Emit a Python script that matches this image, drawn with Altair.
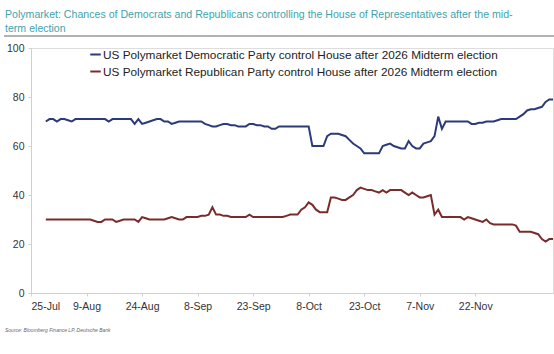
import altair as alt
import pandas as pd

# Daily observations, 29-Jul-2025 .. 12-Dec-2025
start_date = "2025-07-29"
dem_values = [
    70, 71, 71, 70, 71, 71, 70.5, 70, 71, 71, 71, 71, 71, 71, 71, 71, 71,  # 29-Jul..14-Aug
    70, 71, 71, 71, 71, 71, 71, 69, 71, 69, 69.5, 70, 70.5, 71, 71, 70, 70,  # ..31-Aug
    69, 69.5, 70, 70, 70, 70, 70, 70, 70, 69, 68.5, 68, 68, 68.5, 69, 69,  # ..16-Sep
    68.5, 68.5, 68, 68, 68, 69, 69, 68.5, 68.5, 68, 68, 67, 67, 68, 68, 68,  # ..2-Oct
    68, 68, 68, 68, 68, 68, 60, 60, 60, 60, 64, 65, 65, 65, 64.5, 64,  # ..18-Oct
    62.5, 61, 60, 59, 57, 57, 57, 57, 57, 60, 60.5, 61, 60, 59.5, 59, 59,  # ..3-Nov
    62, 60, 59, 59, 61, 61.5, 62, 64, 72, 67, 70, 70, 70, 70, 70, 70,  # ..19-Nov
    70, 69, 69, 69.5, 69.5, 70, 70, 70, 70.5, 71, 71, 71, 71, 71, 72, 73,  # ..5-Dec
    74.5, 75, 75, 75.5, 76, 78, 79, 79,  # ..12-Dec
]
rep_values = [
    30, 30, 30, 30, 30, 30, 30, 30, 30, 30, 30, 30, 30, 29.5, 29, 29, 30,
    30, 30, 29, 29.5, 30, 30, 30, 30, 29, 31, 30.5, 30, 30, 30, 30, 30, 30.5,
    31, 30.5, 30, 30, 31, 31, 31, 31, 31.5, 31.5, 32, 35, 32, 32, 31.5, 31.5,
    31, 31, 31, 31, 31, 32, 31, 31, 31, 31, 31, 31, 31, 31, 31, 31.5,
    32, 32, 32, 34, 35, 37, 36, 34, 33, 33, 33, 39, 39, 38.5, 38, 38,
    39, 40, 42, 43, 42.5, 42, 42, 41.5, 41, 42, 41, 42, 42, 42, 42, 41,
    40, 41, 40, 39, 39, 39.5, 40, 32, 34, 31, 31, 31, 31, 31, 31, 30,
    31, 30.5, 30, 29.5, 29, 30, 28.5, 28, 28, 28, 28, 28, 28, 27.5, 25, 25,
    25, 25, 24.5, 24, 22, 21, 22, 22,
]
series_names = [
    "US Polymarket Democratic Party control House after 2026 Midterm election",
    "US Polymarket Republican Party control House after 2026 Midterm election",
]
tick_dates = ["2025-07-25", "2025-08-09", "2025-08-24", "2025-09-08", "2025-09-23",
              "2025-10-08", "2025-10-23", "2025-11-07", "2025-11-22"]
y_ticks = [0, 20, 40, 60, 80, 100]
title_lines = [
    "Polymarket: Chances of Democrats and Republicans controlling the House of Representatives after the mid-",
    "term election",
]
source_text = "Source: Bloomberg Finance LP, Deutsche Bank"

dates = pd.date_range(start_date, periods=len(dem_values), freq="D").strftime("%Y-%m-%d")
df = pd.concat([
    pd.DataFrame({"date": dates, "value": dem_values, "series": series_names[0]}),
    pd.DataFrame({"date": dates, "value": rep_values, "series": series_names[1]}),
])

FONT = "Liberation Sans"


def dt(s):
    y, m, d = map(int, s.split("-"))
    return alt.DateTime(year=y, month=m, date=d, utc=True)


lines = alt.Chart(df).mark_line(strokeWidth=2).encode(
    x=alt.X("date:T", title=None,
            scale=alt.Scale(type="utc", domain=[dt("2025-07-25"), dt("2025-12-13")]),
            axis=alt.Axis(values=[dt(s) for s in tick_dates], format="%-d-%b",
                          labelFontSize=10.5, labelColor="#333", labelFont=FONT,
                          domainColor="#d0d0d0", tickColor="#d0d0d0", tickSize=3,
                          labelPadding=5, grid=False)),
    y=alt.Y("value:Q", title=None,
            scale=alt.Scale(domain=[0, 100]),
            axis=alt.Axis(values=y_ticks, labelFontSize=10.5, labelColor="#333",
                          labelFont=FONT, domainColor="#d0d0d0", tickColor="#d0d0d0",
                          tickSize=3, labelPadding=4, grid=False)),
    color=alt.Color("series:N", title=None,
                    scale=alt.Scale(domain=series_names, range=["#2b3a78", "#7a2c2c"]),
                    legend=alt.Legend(orient="none", legendX=58, legendY=0,
                                      symbolType="stroke", symbolStrokeWidth=2,
                                      symbolSize=110, labelFontSize=11.8, labelFont=FONT,
                                      labelColor="#222", labelOffset=1, rowPadding=3,
                                      labelLimit=600)),
)

t1 = alt.Chart(pd.DataFrame({"t": [title_lines[0]]})).mark_text(
    align="left", baseline="middle", fontSize=10.6, font=FONT, color="#3fa3ad"
).encode(x=alt.value(-26), y=alt.value(-33), text="t:N")
t2 = alt.Chart(pd.DataFrame({"t": [title_lines[1]]})).mark_text(
    align="left", baseline="middle", fontSize=10.6, font=FONT, color="#3fa3ad"
).encode(x=alt.value(-26), y=alt.value(-19), text="t:N")
rule = alt.Chart(pd.DataFrame({"a": [0]})).mark_rule(color="#666", strokeWidth=1).encode(
    x=alt.value(-27), x2=alt.value(523), y=alt.value(-12))
src = alt.Chart(pd.DataFrame({"t": [source_text]})).mark_text(
    align="left", baseline="middle", fontSize=5, font=FONT, fontStyle="italic", color="#666"
).encode(x=alt.value(-26), y=alt.value(282), text="t:N")

chart = alt.layer(lines, t1, t2, rule, src).properties(
    width=522, height=245,
    autosize=alt.AutoSizeParams(type="none"),
    padding={"left": 31, "top": 48, "right": 1, "bottom": 61},
).configure_view(stroke=None).configure(background="white")

chart.save("out.html", embed_options={"renderer": "svg", "actions": False})
